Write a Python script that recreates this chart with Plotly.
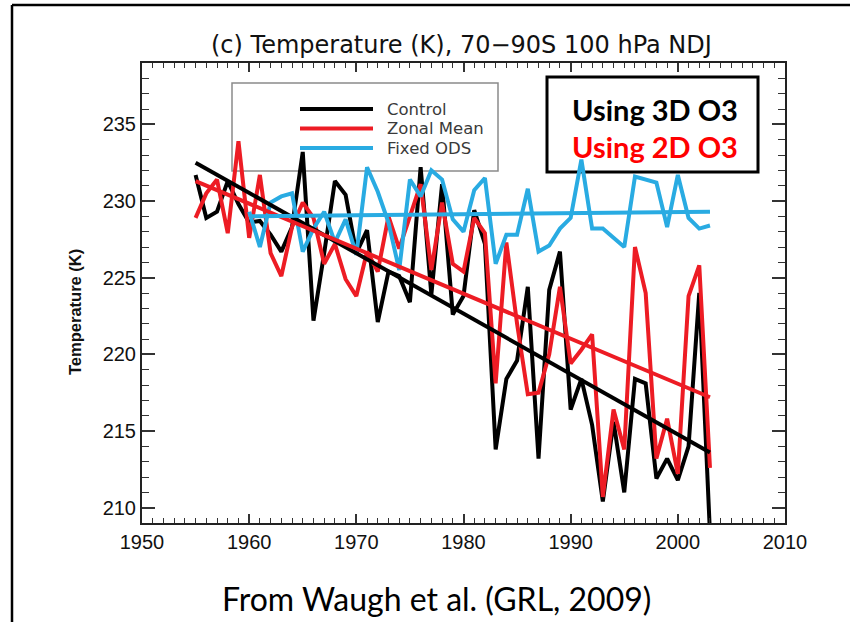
import plotly.graph_objects as go

# ---- data -------------------------------------------------------------
years = list(range(1955, 2004))
years_fixed = list(range(1960, 2004))

control = [231.7, 228.9, 229.3, 231.3, 229.8, 228.6, 228.7, 227.8, 226.7, 228.3,
           233.2, 222.2, 226.6, 231.3, 230.4, 226.6, 228.1, 222.1, 225.4, 225.1,
           223.4, 232.2, 223.9, 231.1, 222.6, 223.8, 229.4, 227.2, 213.8, 218.4,
           219.6, 224.4, 213.2, 224.2, 226.7, 216.4, 218.4, 215.4, 210.4, 215.6,
           211.0, 218.4, 218.1, 211.9, 213.2, 211.8, 214.0, 224.0, 208.3]

zonal_mean = [228.9, 230.5, 231.4, 227.9, 233.9, 227.6, 231.7, 226.6, 225.1, 228.3,
              229.9, 228.9, 225.9, 227.2, 224.9, 223.8, 226.7, 225.4, 229.0, 226.9,
              229.0, 231.1, 225.5, 229.9, 225.9, 225.4, 228.9, 227.9, 218.1, 227.3,
              222.0, 217.4, 217.5, 220.0, 224.4, 219.4, 220.3, 221.3, 210.7, 216.4,
              213.8, 227.0, 224.0, 213.2, 215.8, 212.2, 223.8, 225.8, 212.6]

fixed_ods = [229.3, 227.0, 229.9, 230.3, 230.5, 226.7, 228.2, 229.3, 227.3, 228.8,
             226.5, 232.2, 230.6, 228.6, 225.5, 231.4, 230.3, 232.0, 231.4, 228.8,
             228.0, 230.7, 231.5, 225.9, 227.8, 227.8, 230.8, 226.7, 227.1, 228.2,
             228.9, 232.7, 228.2, 228.2, 227.6, 227.0, 231.6, 231.4, 231.2, 228.3,
             231.7, 228.9, 228.2, 228.4]

# linear trend end points (first year, last year)
trend_years = [1955, 2003]
trend_years_fixed = [1960, 2003]
control_trend = [232.5, 213.6]
zonal_trend = [231.3, 217.2]
fixed_trend = [229.0, 229.3]

series_names = ["Control", "Zonal Mean", "Fixed ODS"]
x_ticks = [1950, 1960, 1970, 1980, 1990, 2000, 2010]
y_ticks = [210, 215, 220, 225, 230, 235]

BLACK = "#000000"
RED = "#ED1C24"
BLUE = "#29ABE2"
colors = [BLACK, RED, BLUE]

# ---- layout geometry (pixels) ------------------------------------------
W, H = 850, 622
L, R, T, B = 142, 785, 63, 523


def px(xp):
    return (xp - L) / (R - L)


def py(yp):
    return (B - yp) / (B - T)


fig = go.Figure()

lw = 4
fig.add_trace(go.Scatter(x=years, y=control, mode="lines",
                         line=dict(color=BLACK, width=lw), showlegend=False))
fig.add_trace(go.Scatter(x=years, y=zonal_mean, mode="lines",
                         line=dict(color=RED, width=lw), showlegend=False))
fig.add_trace(go.Scatter(x=years_fixed, y=fixed_ods, mode="lines",
                         line=dict(color=BLUE, width=lw), showlegend=False))
fig.add_trace(go.Scatter(x=trend_years, y=control_trend, mode="lines",
                         line=dict(color=BLACK, width=lw), showlegend=False))
fig.add_trace(go.Scatter(x=trend_years, y=zonal_trend, mode="lines",
                         line=dict(color=RED, width=lw), showlegend=False))
fig.add_trace(go.Scatter(x=trend_years_fixed, y=fixed_trend, mode="lines",
                         line=dict(color=BLUE, width=lw), showlegend=False))

shapes = []
annotations = []

# slide frame (left and top edges)
shapes.append(dict(type="line", xref="paper", yref="paper",
                   x0=px(12), x1=px(12), y0=py(5), y1=py(622),
                   line=dict(color="black", width=2.5)))
shapes.append(dict(type="line", xref="paper", yref="paper",
                   x0=px(12), x1=px(851), y0=py(5), y1=py(5),
                   line=dict(color="black", width=2.5)))

# legend box
shapes.append(dict(type="rect", xref="paper", yref="paper", layer="below",
                   x0=px(232), x1=px(498), y0=py(171), y1=py(83),
                   line=dict(color="#8a8a8a", width=1.5), fillcolor="white"))
for i, (name, c) in enumerate(zip(series_names, colors)):
    yy = 109 + i * 19.5
    shapes.append(dict(type="line", xref="paper", yref="paper",
                       x0=px(300), x1=px(373), y0=py(yy), y1=py(yy),
                       line=dict(color=c, width=lw)))
    annotations.append(dict(xref="paper", yref="paper", x=px(385), y=py(yy),
                            text=name, showarrow=False, xanchor="left",
                            yanchor="middle",
                            font=dict(family="DejaVu Sans", size=16.5,
                                      color="#3a3a3a")))

# boxed note
shapes.append(dict(type="rect", xref="paper", yref="paper", layer="below",
                   x0=px(547), x1=px(758), y0=py(172), y1=py(77),
                   line=dict(color="black", width=3), fillcolor="white"))
annotations.append(dict(xref="paper", yref="paper", x=px(655), y=py(110),
                        text="<b>Using 3D O3</b>", showarrow=False,
                        xanchor="center", yanchor="middle",
                        font=dict(family="Lato", size=29, color="black")))
annotations.append(dict(xref="paper", yref="paper", x=px(655), y=py(147),
                        text="<b>Using 2D O3</b>", showarrow=False,
                        xanchor="center", yanchor="middle",
                        font=dict(family="Lato", size=29, color="#FF0000")))

# chart title
annotations.append(dict(xref="paper", yref="paper", x=px(461), y=py(45),
                        text="(c) Temperature (K), 70\u221290S 100 hPa NDJ",
                        showarrow=False, xanchor="center", yanchor="middle",
                        font=dict(family="DejaVu Sans", size=24, color="#111")))

# y-axis title
annotations.append(dict(xref="paper", yref="paper", x=px(75), y=py(312),
                        text="<b>Temperature (K)</b>", showarrow=False,
                        textangle=-90, xanchor="center", yanchor="middle",
                        font=dict(family="Liberation Sans", size=16.5,
                                  color="#111")))

# source line
annotations.append(dict(xref="paper", yref="paper", x=px(436), y=py(598),
                        text="From Waugh et al. (GRL, 2009)",
                        showarrow=False, xanchor="center", yanchor="middle",
                        font=dict(family="Lato", size=32, color="black")))

axis_common = dict(showline=True, linecolor="#222", linewidth=2,
                   mirror="allticks", ticks="inside", tickcolor="#333",
                   tickwidth=1.5, showgrid=False, zeroline=False,
                   tickfont=dict(family="Liberation Sans", size=20,
                                 color="#111"))

fig.update_xaxes(range=[1950, 2010], tickvals=x_ticks, ticklen=9,
                 minor=dict(dtick=1, tick0=1950, ticks="inside", ticklen=5,
                            tickcolor="#333", tickwidth=1.2, showgrid=False),
                 **axis_common)
fig.update_yaxes(range=[209, 239], tickvals=y_ticks, ticklen=13,
                 minor=dict(dtick=1, tick0=209, ticks="inside", ticklen=7,
                            tickcolor="#333", tickwidth=1.2, showgrid=False),
                 **axis_common)

fig.update_layout(width=W, height=H,
                  margin=dict(l=L, r=W - R, t=T, b=H - B),
                  paper_bgcolor="white", plot_bgcolor="white",
                  shapes=shapes, annotations=annotations,
                  showlegend=False)

fig.write_html("out.html")
